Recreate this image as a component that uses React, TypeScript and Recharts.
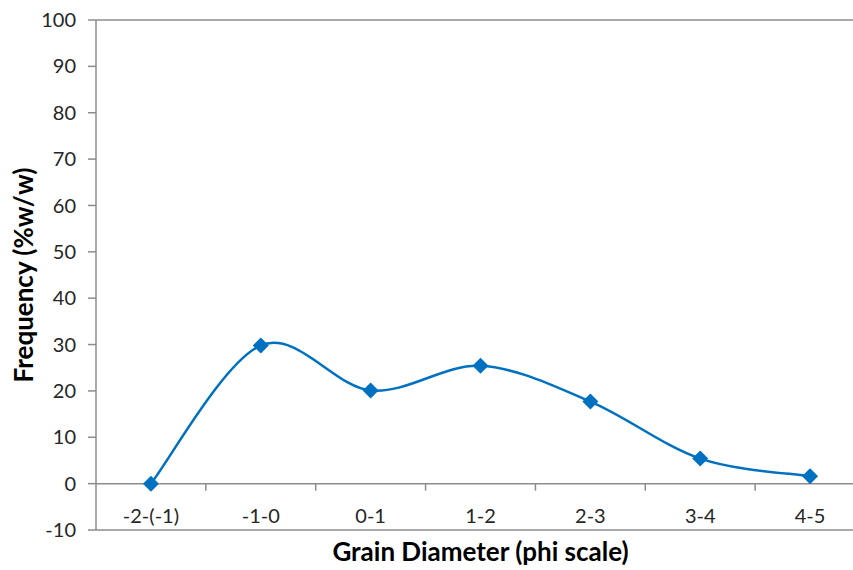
import React from 'react';
import { LineChart, Line, XAxis, YAxis, ReferenceLine, Label } from 'recharts';

const categories = ['-2-(-1)', '-1-0', '0-1', '1-2', '2-3', '3-4', '4-5'];
const frequency = [0, 29.8, 20.1, 25.4, 17.7, 5.4, 1.6];
const yTicks = [-10, 0, 10, 20, 30, 40, 50, 60, 70, 80, 90, 100];
const yMinorTicks = [-10, -8, -6, -4, -2, 0, 2, 4, 6, 8, 10, 12, 14, 16, 18, 20, 22, 24, 26, 28, 30, 32, 34, 36, 38, 40, 42, 44, 46, 48, 50, 52, 54, 56, 58, 60, 62, 64, 66, 68, 70, 72, 74, 76, 78, 80, 82, 84, 86, 88, 90, 92, 94, 96, 98, 100];

const data = categories.map((c, i) => ({ name: c, value: frequency[i] }));

const FONT = 'Lato, "Open Sans", sans-serif';
const AXIS = '#8c8c8c';
const BLUE = '#0070C0';

// Excel-like smoothed line (Catmull-Rom through every point)
const smoothCurve = (context: any) => {
  let pts: number[][] = [];
  return {
    areaStart() {},
    areaEnd() {},
    lineStart() { pts = []; },
    lineEnd() {
      if (!pts.length) return;
      context.moveTo(pts[0][0], pts[0][1]);
      for (let i = 0; i < pts.length - 1; i++) {
        const p0 = pts[i - 1] || pts[i];
        const p1 = pts[i];
        const p2 = pts[i + 1];
        const p3 = pts[i + 2] || pts[i + 1];
        context.bezierCurveTo(
          p1[0] + (p2[0] - p0[0]) / 6, p1[1] + (p2[1] - p0[1]) / 6,
          p2[0] - (p3[0] - p1[0]) / 6, p2[1] - (p3[1] - p1[1]) / 6,
          p2[0], p2[1]
        );
      }
    },
    point(x: number, y: number) { pts.push([+x, +y]); },
  };
};

const Diamond = (props: any) => {
  const { cx, cy } = props;
  if (cx == null || cy == null) return null;
  const r = 8;
  return <path d={`M${cx},${cy - r}L${cx + r},${cy}L${cx},${cy + r}L${cx - r},${cy}Z`} fill={BLUE} />;
};

// category ticks sit just below the zero line, inside the plot
const XTick = (props: any) => {
  const { x, y, payload } = props;
  return (
    <text x={x} y={y - 23} textAnchor="middle" dominantBaseline="central" fontSize={20} fill="#262626" fontFamily={FONT}>
      {payload.value}
    </text>
  );
};

// zero axis line with tick marks at category boundaries
const ZeroAxis = (props: any) => {
  const { x1, x2, y1 } = props;
  const band = (x2 - x1) / categories.length;
  const marks = categories.slice(1).map((_, i) => x1 + band * (i + 1));
  return (
    <g>
      <line x1={x1} x2={x2} y1={y1} y2={y1} stroke={AXIS} strokeWidth={1.5} />
      {marks.map((mx, i) => (
        <line key={i} x1={mx} x2={mx} y1={y1} y2={y1 + 7} stroke={AXIS} strokeWidth={1.5} />
      ))}
    </g>
  );
};

const YTitle = (props: any) => {
  const { viewBox } = props;
  const cx = 23;
  const cy = viewBox.y + viewBox.height / 2;
  return (
    <text x={cx} y={cy} transform={`rotate(-90, ${cx}, ${cy})`} textAnchor="middle" dominantBaseline="central"
      fontSize={26} fontWeight="bold" fill="#000" fontFamily={FONT}>
      Frequency (%w/w)
    </text>
  );
};

export default function App() {
  return (
    <div style={{ position: 'fixed', left: 0, top: 0, width: 853, height: 570, overflow: 'hidden', background: '#fff' }}>
      <LineChart width={870} height={570} data={data} margin={{ top: 20, right: 5, bottom: 0, left: 0 }}>
        <XAxis dataKey="name" scale="band" height={40} tick={<XTick />} tickLine={false} axisLine={{ stroke: AXIS, strokeWidth: 1.5 }} interval={0}>
          <Label value="Grain Diameter (phi scale)" position="insideBottom" offset={9} fontSize={26} fontWeight="bold" fill="#000" fontFamily={FONT} />
        </XAxis>
        <YAxis yAxisId="left" domain={[-10, 100]} ticks={yTicks} width={96} tickSize={8} tickMargin={12}
          axisLine={{ stroke: AXIS, strokeWidth: 1.5 }} tickLine={{ stroke: AXIS, strokeWidth: 1.5 }}
          tick={{ fontSize: 20, fill: '#262626', fontFamily: FONT }} interval={0}>
          <Label content={<YTitle />} />
        </YAxis>
        <YAxis yAxisId="minor" domain={[-10, 100]} ticks={yMinorTicks} mirror tick={false} tickSize={4}
          axisLine={false} tickLine={{ stroke: AXIS, strokeWidth: 1.5 }} interval={0} />
        <ReferenceLine yAxisId="left" y={100} stroke={AXIS} strokeWidth={1.5} />
        <ReferenceLine yAxisId="left" y={0} shape={<ZeroAxis />} />
        <Line yAxisId="left" dataKey="value" type={smoothCurve as any} stroke={BLUE} strokeWidth={2.5}
          dot={<Diamond />} activeDot={false} isAnimationActive={false} />
      </LineChart>
    </div>
  );
}
